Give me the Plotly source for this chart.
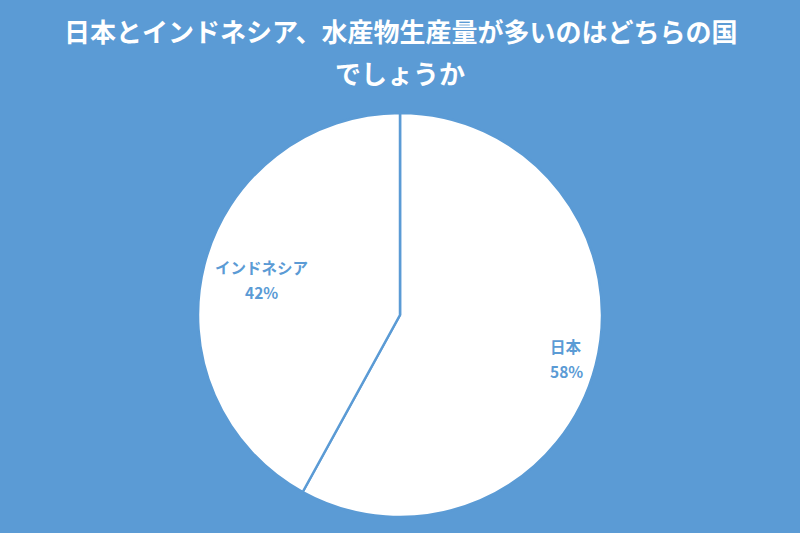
import math
import plotly.graph_objects as go

countries = ["日本", "インドネシア"]
shares = [58, 42]

bg_blue = "#5B9BD5"
title_line1 = "日本とインドネシア、水産物生産量が多いのはどちらの国"
title_line2 = "でしょうか"

W, H = 800, 533
cx, cy, R = 400, 315, 202          # pie centre / radius in pixels (from top-left)
label_r = [0.85, 0.71]              # how far out each label sits, as a share of the radius

fig = go.Figure()
fig.add_trace(go.Pie(
    labels=countries,
    values=shares,
    sort=False,
    direction="clockwise",
    rotation=0,
    marker=dict(colors=["white", "white"], line=dict(color=bg_blue, width=2.5)),
    textinfo="none",
    domain=dict(x=[(cx - R) / W, (cx + R) / W], y=[1 - (cy + R) / H, 1 - (cy - R) / H]),
    showlegend=False,
    hoverinfo="label+percent",
))

# labels placed at each slice's mid-angle, like Excel's "best fit"
total = sum(shares)
start = 0.0
for name, val, rf in zip(countries, shares, label_r):
    mid = math.radians((start + val / 2) / total * 360)
    start += val
    px = cx + rf * R * math.sin(mid)
    py = cy - rf * R * math.cos(mid)
    pct = f"{round(val / total * 100)}%"
    for txt, dy in [(name, -12), (pct, 13)]:
        fig.add_annotation(text=f"<b>{txt}</b>", x=px / W, y=1 - (py + dy) / H,
                           xref="paper", yref="paper", xanchor="center", yanchor="middle",
                           showarrow=False,
                           font=dict(family="Noto Sans CJK JP", size=15.5, color=bg_blue))

for line, ty in [(title_line1, 30), (title_line2, 72)]:
    fig.add_annotation(text=f"<b>{line}</b>", x=0.5, y=1 - ty / H, xref="paper", yref="paper",
                       xanchor="center", yanchor="middle", showarrow=False,
                       font=dict(family="Noto Sans CJK JP", size=26, color="white"))

fig.update_layout(
    width=W, height=H,
    margin=dict(l=0, r=0, t=0, b=0),
    paper_bgcolor=bg_blue,
    plot_bgcolor=bg_blue,
)
fig.write_html("out.html", config={"displayModeBar": False},
               post_script="document.body.style.margin='0';document.body.style.background='" + bg_blue + "';")
